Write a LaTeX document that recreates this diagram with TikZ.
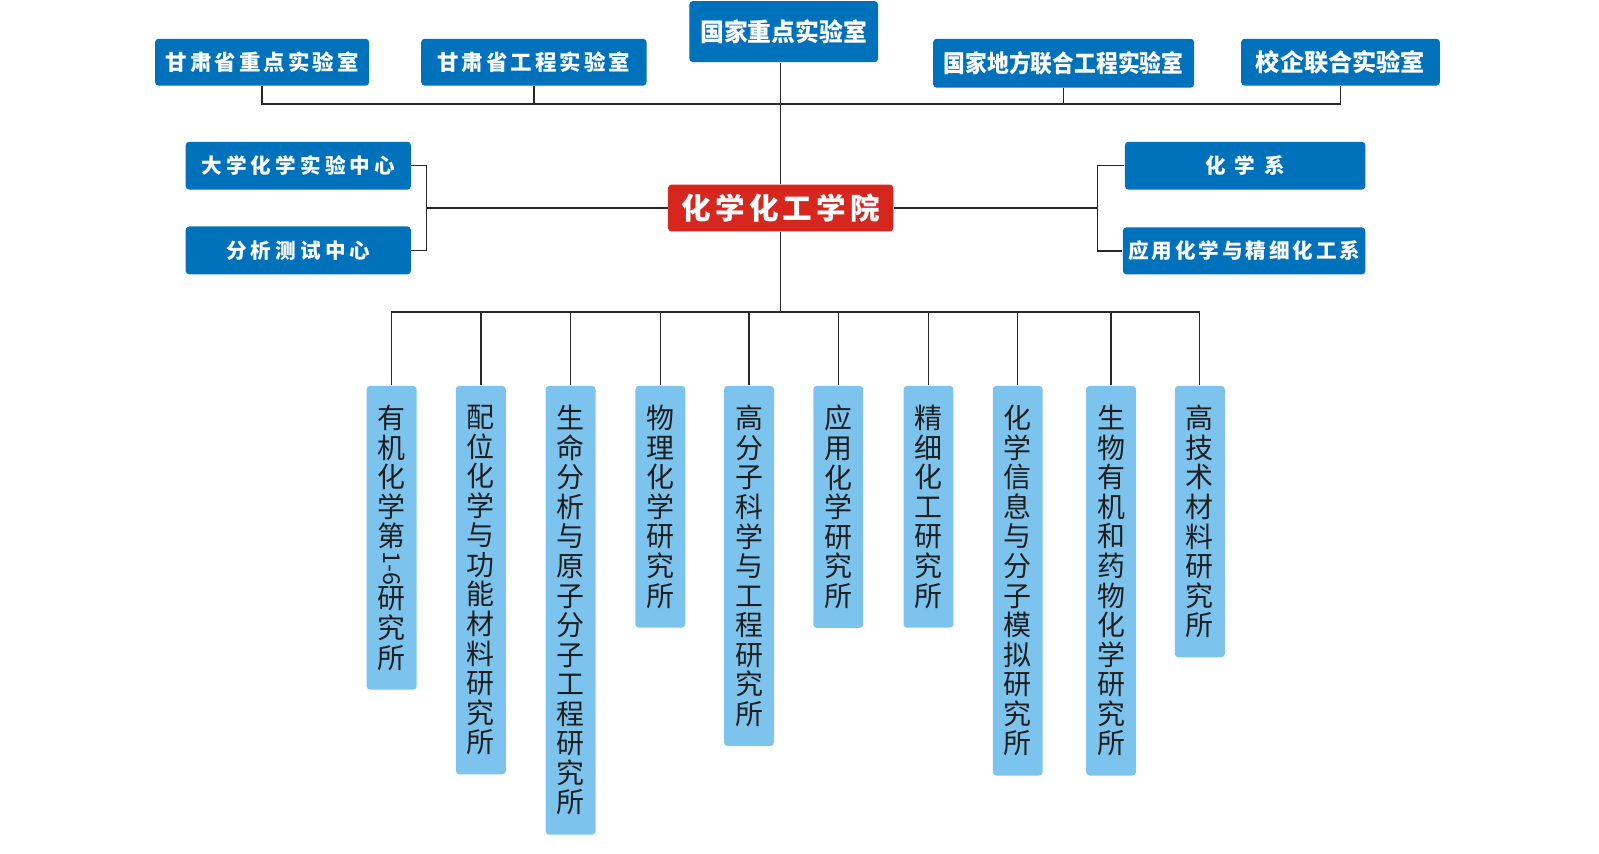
\documentclass[tikz,border=0pt]{standalone}
\usepackage{fontspec}
\usepackage{graphicx}
\newfontfamily\cjk{Noto Sans CJK SC}
\newfontfamily\cjkls{Noto Sans CJK SC}[LetterSpace=14]
\newfontfamily\cjklw{Noto Sans CJK SC}[LetterSpace=20]
\definecolor{dkblue}{RGB}{0,114,188}
\definecolor{ltblue}{RGB}{124,196,238}
\definecolor{hdred}{RGB}{214,38,30}
\definecolor{lnk}{RGB}{40,40,40}
\definecolor{txt}{RGB}{30,30,30}
\tikzset{
  dkbox/.style={fill=dkblue, rounded corners=2pt, text=white, inner sep=0pt, minimum height=0.92cm},
  redbox/.style={fill=hdred, rounded corners=2pt, text=white, inner sep=0pt, minimum height=0.92cm, minimum width=4.42cm},
  ltbox/.style={fill=ltblue, rounded corners=2pt, anchor=north, text=txt, inner xsep=0pt, inner ysep=10.8pt,
    minimum width=0.98cm, align=center, font=\cjk\fontsize{15.6}{16.5}\selectfont},
  conn/.style={draw=lnk, line width=0.8pt}
}
\begin{document}
\begin{tikzpicture}[x=0.02cm, y=-0.02cm]
	\useasboundingbox (0,0) rectangle (1568,836.5);
	
	%oben
	\node[dkbox, minimum width=4.2cm, font=\cjkls\bfseries\fontsize{12}{14}\selectfont] (gsk) at (257,61) {甘肃省重点实验室};
	\node[dkbox, minimum width=4.42cm, font=\cjkls\bfseries\fontsize{12}{14}\selectfont] (gsg) at (523.5,61) {甘肃省工程实验室};
	\node[dkbox, minimum width=3.7cm, minimum height=1.2cm, font=\cjk\bfseries\fontsize{14}{16}\selectfont] (gjzd) at (768.5,31) {\scalebox{0.95}[1]{国家重点实验室}};
	\node[dkbox, minimum width=5.12cm, minimum height=0.96cm, font=\cjk\bfseries\fontsize{13.5}{15}\selectfont] (gjdf) at (1043,62) {\scalebox{0.9}[1]{国家地方联合工程实验室}};
	\node[dkbox, minimum width=3.9cm, font=\cjk\bfseries\fontsize{13.5}{15}\selectfont] (xqlh) at (1314.5,61) {校企联合实验室};
	
	%Mitte
	\node[redbox, font=\cjkls\bfseries\fontsize{16.5}{18}\selectfont] (yuan) at (765.5,204) {化学化工学院};
	\node[dkbox, minimum width=4.42cm, minimum height=0.94cm, font=\cjklw\bfseries\fontsize{11.5}{13}\selectfont] (dxsy) at (292.5,162.5) {大学化学实验中心};
	\node[dkbox, minimum width=4.42cm, minimum height=0.94cm, font=\cjklw\bfseries\fontsize{11.5}{13}\selectfont] (fxcs) at (292.5,245.5) {分析测试中心};
	\node[dkbox, minimum width=4.72cm, minimum height=0.94cm, font=\cjklw\bfseries\fontsize{11.5}{13}\selectfont] (hxx) at (1221,162.5) {化\hspace{0.42em}学\hspace{0.42em}系};
	\node[dkbox, minimum width=4.76cm, minimum height=0.92cm, font=\cjkls\bfseries\fontsize{11.5}{13}\selectfont] (yyhx) at (1220,246) {应用化学与精细化工系};
	
	%unten
	\node[ltbox] (s1) at (384,378) {有\\机\\化\\学\\第\\\rotatebox[origin=c]{-90}{\fontsize{13}{13}\selectfont 1-6}\\研\\究\\所};
	\node[ltbox] (s2) at (471.5,378) {配\\位\\化\\学\\与\\功\\能\\材\\料\\研\\究\\所};
	\node[ltbox] (s3) at (559.5,378) {生\\命\\分\\析\\与\\原\\子\\分\\子\\工\\程\\研\\究\\所};
	\node[ltbox] (s4) at (647.5,378) {物\\理\\化\\学\\研\\究\\所};
	\node[ltbox] (s5) at (734.5,378) {高\\分\\子\\科\\学\\与\\工\\程\\研\\究\\所};
	\node[ltbox] (s6) at (822,378) {应\\用\\化\\学\\研\\究\\所};
	\node[ltbox] (s7) at (910.5,378) {精\\细\\化\\工\\研\\究\\所};
	\node[ltbox] (s8) at (998,378) {化\\学\\信\\息\\与\\分\\子\\模\\拟\\研\\究\\所};
	\node[ltbox] (s9) at (1089.5,378) {生\\物\\有\\机\\和\\药\\物\\化\\学\\研\\究\\所};
	\node[ltbox] (s10) at (1176.5,378) {高\\技\\术\\材\\料\\研\\究\\所};
	
	%Verbindungen
	\coordinate (tbus) at (765.5,102);
	\coordinate (lbr) at (418,204);
	\coordinate (rbr) at (1076,204);
	\coordinate (bbus) at (765.5,306);
	
	\draw[conn] (gsk.south) |- (tbus) -| (xqlh.south);
	\draw[conn] (gsg.south) -- (gsg.south |- tbus);
	\draw[conn] (gjdf.south) -- (gjdf.south |- tbus);
	\draw[conn] (gjzd.south -| yuan.north) -- (yuan.north);
	
	\draw[conn] (dxsy.east) -| (lbr) |- (fxcs.east);
	\draw[conn] (lbr) -- (yuan.west);
	\draw[conn] (hxx.west) -| (rbr) |- (yyhx.west);
	\draw[conn] (rbr) -- (yuan.east);
	
	\draw[conn] (yuan.south) -- (bbus);
	\draw[conn] (s1.north) |- (bbus) -| (s10.north);
	\foreach \n in {2,...,9}
		\draw[conn] (s\n.north) -- (s\n.north |- bbus);
\end{tikzpicture}
\end{document}
